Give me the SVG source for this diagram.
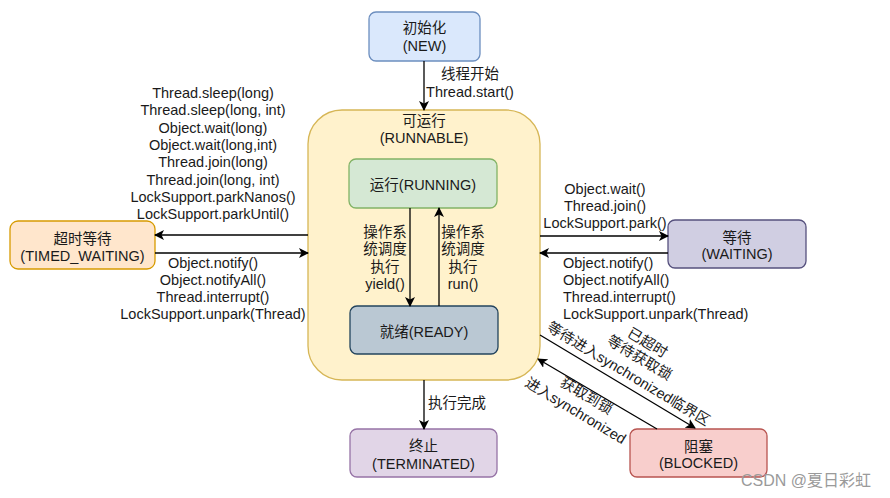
<svg xmlns="http://www.w3.org/2000/svg" width="890" height="498" viewBox="0 0 890 498">
<defs>
<marker id="arr" viewBox="0 0 10 10" refX="9" refY="5" markerWidth="10" markerHeight="10" markerUnits="userSpaceOnUse" orient="auto">
<path d="M0,0 L10,5 L0,10 L2.5,5 Z" fill="#000"/>
</marker>
</defs>
<style>
text{font-family:"Liberation Sans","Noto Sans CJK SC",sans-serif;font-size:14.5px;fill:#1a1a1a}
.c{text-anchor:middle}
.l{stroke:#000;stroke-width:1.3;fill:none;marker-end:url(#arr)}
</style>
<rect width="890" height="498" fill="#fff"/>
<g id="runnable">
<rect x="308" y="110" width="232" height="270" rx="34" fill="#fff2cc" stroke="#d6b656" stroke-width="1.3"/>
<text class="c" x="424" y="126">可运行</text>
<text class="c" x="424" y="143">(RUNNABLE)</text>
</g>
<g id="new">
<rect x="369" y="12" width="111" height="49" rx="7" fill="#dae8fc" stroke="#6c8ebf" stroke-width="1.3"/>
<text class="c" x="424.5" y="33">初始化</text>
<text class="c" x="424.5" y="51">(NEW)</text>
</g>
<g id="running">
<rect x="349" y="159" width="148" height="49" rx="7" fill="#d5e8d4" stroke="#82b366" stroke-width="1.3"/>
<text class="c" x="423" y="190">运行(RUNNING)</text>
</g>
<g id="ready">
<rect x="350" y="306" width="148" height="48" rx="7" fill="#bac8d3" stroke="#23445d" stroke-width="1.3"/>
<text class="c" x="424" y="337">就绪(READY)</text>
</g>
<g id="timed_waiting">
<rect x="10" y="221" width="145" height="48" rx="8" fill="#ffe6cc" stroke="#d79b00" stroke-width="1.3"/>
<text class="c" x="82.5" y="244">超时等待</text>
<text class="c" x="82.5" y="261">(TIMED_WAITING)</text>
</g>
<g id="waiting">
<rect x="668" y="220" width="138" height="48" rx="7" fill="#d0cee2" stroke="#56517e" stroke-width="1.3"/>
<text class="c" x="737" y="243">等待</text>
<text class="c" x="737" y="259">(WAITING)</text>
</g>
<g id="terminated">
<rect x="350" y="429" width="147" height="48" rx="7" fill="#e1d5e7" stroke="#9673a6" stroke-width="1.3"/>
<text class="c" x="423.5" y="451">终止</text>
<text class="c" x="423.5" y="469">(TERMINATED)</text>
</g>
<g id="blocked">
<rect x="630" y="429" width="137" height="48" rx="7" fill="#f8cecc" stroke="#b85450" stroke-width="1.3"/>
<text class="c" x="698.5" y="452">阻塞</text>
<text class="c" x="698.5" y="468">(BLOCKED)</text>
</g>
<g id="connectors">
<line class="l" x1="424" y1="61" x2="424" y2="110"/>
<line class="l" x1="410" y1="208" x2="410" y2="306"/>
<line class="l" x1="439" y1="306" x2="439" y2="208"/>
<line class="l" x1="308" y1="235" x2="155" y2="235"/>
<line class="l" x1="155" y1="253" x2="308" y2="253"/>
<line class="l" x1="540" y1="236" x2="668" y2="236"/>
<line class="l" x1="668" y1="253" x2="540" y2="253"/>
<line class="l" x1="424" y1="380" x2="424" y2="429"/>
<line class="l" x1="540" y1="335" x2="695" y2="428"/>
<line class="l" x1="657" y1="429" x2="538" y2="359"/>
</g>
<g id="labels">
<text class="c" x="470" y="79">线程开始</text>
<text class="c" x="470" y="97">Thread.start()</text>
<text class="c" x="213" y="98">Thread.sleep(long)</text>
<text class="c" x="213" y="115">Thread.sleep(long, int)</text>
<text class="c" x="213" y="133">Object.wait(long)</text>
<text class="c" x="213" y="150">Object.wait(long,int)</text>
<text class="c" x="213" y="167">Thread.join(long)</text>
<text class="c" x="213" y="185">Thread.join(long,  int)</text>
<text class="c" x="213" y="202">LockSupport.parkNanos()</text>
<text class="c" x="213" y="219">LockSupport.parkUntil()</text>
<text class="c" x="213" y="268">Object.notify()</text>
<text class="c" x="213" y="285">Object.notifyAll()</text>
<text class="c" x="213" y="302">Thread.interrupt()</text>
<text class="c" x="213" y="319">LockSupport.unpark(Thread)</text>
<text class="c" x="605" y="194">Object.wait()</text>
<text class="c" x="605" y="211">Thread.join()</text>
<text class="c" x="605" y="228">LockSupport.park()</text>
<text x="563" y="268">Object.notify()</text>
<text x="563" y="285">Object.notifyAll()</text>
<text x="563" y="302">Thread.interrupt()</text>
<text x="563" y="319">LockSupport.unpark(Thread)</text>
<text class="c" x="385" y="237">操作系</text>
<text class="c" x="385" y="254">统调度</text>
<text class="c" x="385" y="272">执行</text>
<text class="c" x="385" y="289">yield()</text>
<text class="c" x="463" y="237">操作系</text>
<text class="c" x="463" y="254">统调度</text>
<text class="c" x="463" y="272">执行</text>
<text class="c" x="463" y="289">run()</text>
<text x="428" y="408">执行完成</text>
<text class="c" transform="translate(645,347) rotate(31)">已超时</text>
<text class="c" transform="translate(637,362) rotate(31)">等待获取锁</text>
<text class="c" transform="translate(626,378) rotate(31)">等待进入synchronized临界区</text>
<text class="c" transform="translate(584,400) rotate(31)">获取到锁</text>
<text class="c" transform="translate(573,415) rotate(31)">进入synchronized</text>
<text x="741" y="486" style="fill:#9a9a9a;font-size:16px">CSDN @夏日彩虹</text>
</g>
</svg>
